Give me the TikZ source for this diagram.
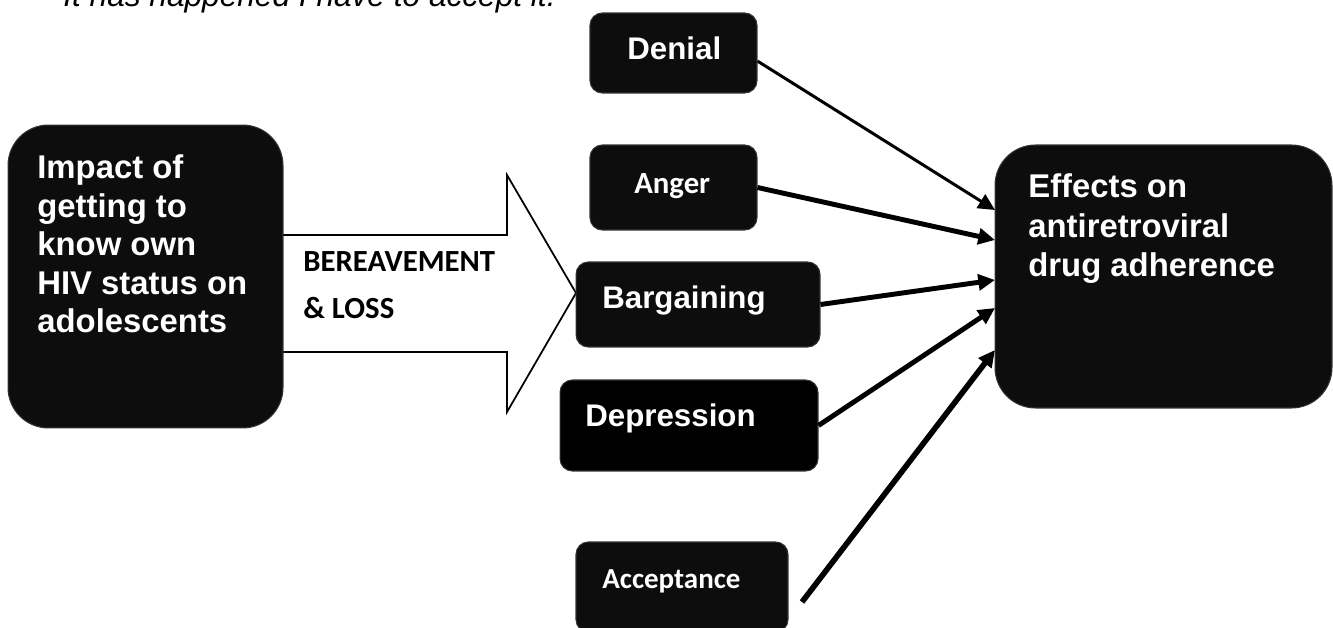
\documentclass[tikz,border=0pt]{standalone}
\usepackage{fontspec}
\setmainfont{Liberation Sans}
\newfontfamily\calibri{Carlito}
\usetikzlibrary{arrows.meta,calc}
\definecolor{boxblack}{HTML}{0D0D0D}
\tikzset{
  stagebox/.style={draw=black!80, line width=0.6pt, fill=boxblack, rounded corners=7pt},
  bigbox/.style={stagebox, rounded corners=23pt},
  boxtext/.style={text=white, inner sep=0pt, anchor=base west, font=\bfseries\fontsize{17.8}{21}\selectfont},
  bigtext/.style={boxtext, font=\bfseries\fontsize{18.7}{21.9}\selectfont},
  cbrtext/.style={boxtext, font=\calibri\bfseries\fontsize{17.5}{21}\selectfont},
  flow/.style={line width=2.8pt, -{Triangle[length=9.5pt, width=9pt]}},
}
\begin{document}
\begin{tikzpicture}[x=0.02cm, y=-0.02cm]
    \useasboundingbox (0,0) rectangle (1333,628);
    \clip (0,0) rectangle (1333,628);

    % line cut off at the top
    \node[anchor=base west, inner sep=0pt, font=\itshape\fontsize{18}{20}\selectfont] (quote) at (63,7) {It has happened I have to accept it.};

    % block arrow behind the left box
    \draw[line width=1pt, fill=white] (270,235) -- (507,235) -- (507,175) -- (576,293) -- (507,412) -- (507,352) -- (270,352);
    \node[anchor=base west, inner sep=0pt, font=\calibri\bfseries\fontsize{17.5}{26.6}\selectfont] (loss) at (303,272) {\begin{tabular}[t]{@{}l@{}}BEREAVEMENT\\\& LOSS\end{tabular}};

    \node[bigbox, minimum width=5.5cm, minimum height=6.06cm] (impact) at (145.5,276.5) {};
    \node[bigtext] (impacttxt) at (37,179) {\begin{tabular}[t]{@{}l@{}}Impact of\\getting to\\know own\\HIV status on\\adolescents\end{tabular}};

    \node[bigbox, minimum width=6.74cm, minimum height=5.26cm] (effects) at (1163.5,276.5) {};
    \node[bigtext, font=\bfseries\fontsize{18.7}{22.4}\selectfont] (effectstxt) at (1028,198) {\begin{tabular}[t]{@{}l@{}}Effects on\\antiretroviral\\drug adherence\end{tabular}};

    \node[stagebox, minimum width=3.34cm, minimum height=1.6cm] (denial) at (673.5,53) {}; \node[boxtext] (denialtxt) at (627,60) {Denial};
    \node[stagebox, minimum width=3.34cm, minimum height=1.7cm] (anger) at (673.5,187.5) {}; \node[cbrtext] (angertxt) at (634,194) {Anger};
    \node[stagebox, minimum width=4.88cm, minimum height=1.7cm] (bargaining) at (698,304.5) {}; \node[boxtext] (bargainingtxt) at (602,309) {Bargaining};
    \node[stagebox, fill=black, minimum width=5.16cm, minimum height=1.82cm] (depression) at (689,425.5) {}; \node[boxtext] (depressiontxt) at (585,426) {Depression};
    \node[stagebox, minimum width=4.24cm, minimum height=1.8cm] (acceptance) at (682,587) {}; \node[cbrtext, font=\calibri\bfseries\fontsize{16.5}{20}\selectfont] (acceptancetxt) at (602,588) {Acceptance};

    \coordinate (in1) at (995,210); \coordinate (in2) at (995,240); \coordinate (in3) at (995,280); \coordinate (in4) at (995,308); \coordinate (in5) at (995,350);
    \coordinate (accout) at (802,602);
    \draw[flow, line width=1.7pt] ($(denial.north east)!0.6!(denial.south east)$) -- (in1);
    \draw[flow] (anger.east) -- (in2); \draw[flow] (bargaining.east) -- (in3); \draw[flow] (depression.east) -- (in4);
    \draw[flow, line width=3.2pt] (accout) -- (in5);
\end{tikzpicture}
\end{document}
